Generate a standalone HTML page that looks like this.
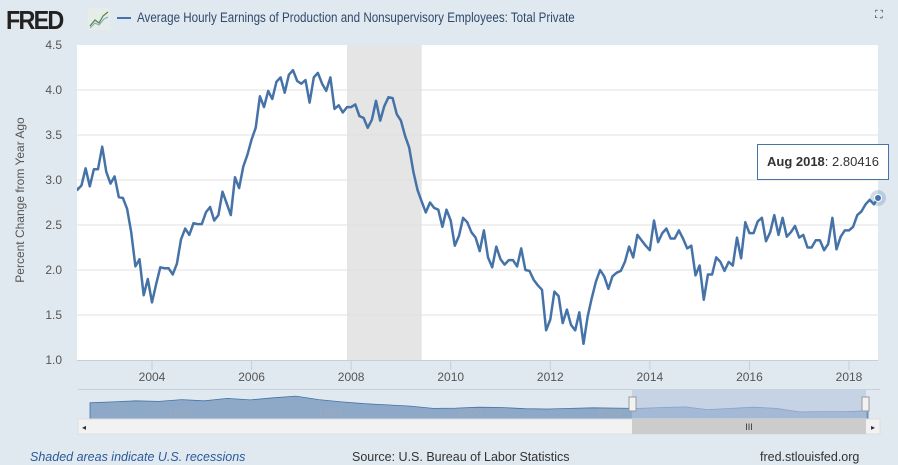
<!DOCTYPE html>
<html><head><meta charset="utf-8"><style>
body{margin:0;background:#e1e9f0;font-family:"Liberation Sans",sans-serif;}
#wrap{position:relative;width:898px;height:465px;overflow:hidden;background:#e1e9f0;}
.t{position:absolute;white-space:nowrap;}
</style></head><body>
<div id="wrap">
<div class="t" style="left:6px;top:5px;font-size:26px;font-weight:bold;color:#222;letter-spacing:-2px;transform:scaleX(0.9);transform-origin:left">FRED</div>
<svg style="position:absolute;left:88px;top:8px" width="22" height="22"><rect x="0" y="0" width="22" height="22" fill="#e6ece8"/><polyline points="2,18 7,12 11,15 15,8 20,4" fill="none" stroke="#4f8a3a" stroke-width="1.2"/><polyline points="2,20 7,15 11,17 16,11 20,9" fill="none" stroke="#7ba3c8" stroke-width="1"/></svg>
<div class="t" style="left:117px;top:17px;width:14px;height:2px;background:#4572a7"></div>
<div class="t" style="left:137px;top:10px;font-size:13.5px;color:#304a6b;transform:scaleX(0.86);transform-origin:left">Average Hourly Earnings of Production and Nonsupervisory Employees: Total Private</div>
<div class="t" style="left:875px;top:9px;font-size:11px;color:#333">⛶</div>
<div class="t" style="left:20px;top:200px;font-size:12px;color:#555;transform:translate(-50%,-50%) rotate(-90deg);transform-origin:center;">Percent Change from Year Ago</div>
<svg id="chart" style="position:absolute;left:0;top:0" width="898" height="465"></svg>
<div class="t" style="left:757px;top:144px;width:132px;height:36px;background:#fff;border:1px solid #4572a7;box-sizing:border-box;font-size:13px;color:#333;line-height:34px;text-align:center"><b>Aug 2018</b>: 2.80416</div>
<div class="t" style="left:30px;top:450px;font-size:12.5px;color:#2a5a9a;font-style:italic">Shaded areas indicate U.S. recessions</div>
<div class="t" style="left:352px;top:450px;font-size:12.5px;color:#333">Source: U.S. Bureau of Labor Statistics</div>
<div class="t" style="left:760px;top:450px;font-size:12.5px;color:#333">fred.stlouisfed.org</div>
</div>
<script>
const yTicks=[1.0,1.5,2.0,2.5,3.0,3.5,4.0,4.5];
const xTicks=[2004,2006,2008,2010,2012,2014,2016,2018];
const recessionStart=2007.917, recessionEnd=2009.417;
const endYear=2018.583;
const values=[2.98,2.89,2.94,3.13,2.93,3.12,3.12,3.37,3.09,2.96,3.04,2.81,2.80,2.68,2.42,2.04,2.12,1.72,1.90,1.64,1.84,2.03,2.02,2.02,1.95,2.07,2.34,2.46,2.39,2.52,2.51,2.51,2.64,2.70,2.55,2.61,2.87,2.74,2.61,3.03,2.91,3.15,3.28,3.45,3.58,3.93,3.81,3.99,3.90,4.09,4.14,3.97,4.17,4.22,4.10,4.07,4.11,3.86,4.14,4.19,4.07,3.99,4.14,3.79,3.83,3.75,3.81,3.81,3.84,3.71,3.69,3.58,3.67,3.88,3.66,3.82,3.92,3.91,3.73,3.66,3.49,3.36,3.09,2.89,2.76,2.64,2.75,2.69,2.67,2.48,2.67,2.55,2.27,2.38,2.58,2.53,2.42,2.36,2.21,2.44,2.14,2.03,2.26,2.12,2.06,2.11,2.11,2.04,2.24,2.00,1.99,1.89,1.83,1.78,1.33,1.45,1.76,1.71,1.41,1.56,1.39,1.33,1.53,1.18,1.48,1.69,1.87,2.00,1.93,1.79,1.93,1.97,1.99,2.09,2.26,2.14,2.39,2.33,2.27,2.22,2.55,2.31,2.41,2.46,2.35,2.35,2.44,2.35,2.24,2.27,1.94,2.05,1.67,1.95,1.95,2.14,2.09,1.99,2.09,2.05,2.36,2.13,2.53,2.41,2.41,2.54,2.58,2.32,2.42,2.61,2.39,2.58,2.37,2.42,2.49,2.36,2.39,2.25,2.25,2.33,2.33,2.22,2.29,2.58,2.23,2.37,2.44,2.44,2.48,2.61,2.65,2.73,2.78,2.73,2.80];
const navValues=[5.5,5.8,6.2,6.0,6.6,6.2,7.0,6.5,7.2,7.8,6.6,5.8,5.2,4.8,4.4,3.6,3.7,4.0,3.9,3.5,3.4,3.6,3.8,3.7,3.6,3.9,4.1,3.2,3.6,4.0,3.6,2.4,2.5,2.5,2.8];
const L=77,R=878,T=45,B=360;
const xs=y=>152+(y-2004)*(849-152)/14;
const ys=v=>B-(v-1)*(B-T)/3.5;
const svg=document.getElementById('chart');
const NS='http://www.w3.org/2000/svg';
function mk(tag,attrs,parent){const e=document.createElementNS(NS,tag);for(const k in attrs)e.setAttribute(k,attrs[k]);(parent||svg).appendChild(e);return e;}
let bg=mk('rect',{x:L,y:T,width:R-L,height:B-T,fill:'#fff'});


let rec=mk('rect',{x:xs(recessionStart),y:T,width:xs(recessionEnd)-xs(recessionStart),height:B-T,fill:'#e5e5e5'});


yTicks.forEach(v=>{
 if(v>1&&v<4.5){let g=mk('line',{x1:L,x2:R,y1:ys(v),y2:ys(v),stroke:'#e0e0e0','stroke-width':1});
 
 }
 let t=mk('text',{x:62,y:ys(v)+4,'text-anchor':'end','font-size':12,fill:'#555','font-family':'Liberation Sans'});
 t.textContent=v.toFixed(1);
 
 
});
mk('line',{x1:L,x2:R,y1:B+0.5,y2:B+0.5,stroke:'#c0d0e0'});
xTicks.forEach(yv=>{
 let x=xs(yv);
 let tk=mk('line',{x1:x,x2:x,y1:B,y2:B+10,stroke:'#c0d0e0'});
 
 
 let t=mk('text',{x:x,y:B+21,'text-anchor':'middle','font-size':12,fill:'#555','font-family':'Liberation Sans'});
 t.textContent=yv;
 
 
});
const defs=mk('defs',{});
const cp=mk('clipPath',{id:'clip'},defs);
mk('rect',{x:L,y:T,width:R-L+6,height:B-T},cp);
const n=values.length;
const pts=values.map((v,i)=>{const yr=endYear-(n-1-i)/12;return xs(yr).toFixed(1)+','+ys(v).toFixed(1);}).join(' ');
let line=mk('polyline',{points:pts,fill:'none',stroke:'#4572a7','stroke-width':2.5,'stroke-linejoin':'round','clip-path':'url(#clip)'});


const lx=xs(endYear), ly=ys(values[n-1]);
let halo=mk('circle',{cx:lx,cy:ly,r:8,fill:'#4572a7','fill-opacity':0.25});


let dot=mk('circle',{cx:lx,cy:ly,r:3.5,fill:'#4572a7',stroke:'#fff','stroke-width':1});


const NL=90,NR=868,NT=394,NB=419;
let nb=mk('rect',{x:NL-12,y:NT-4,width:NR-NL+24,height:NB-NT+4,fill:'#e1e9f0'});


mk('line',{x1:78,x2:880,y1:NT-4.5,y2:NT-4.5,stroke:'#c8d0d8'});
const nx=i=>NL+i*(NR-NL)/(navValues.length-1);
const ny=v=>NB-v*(NB-NT)/8.5;
let ap='M'+NL+','+NB+' '+navValues.map((v,i)=>'L'+nx(i).toFixed(1)+','+ny(v).toFixed(1)).join(' ')+' L'+NR+','+NB+'Z';
let area=mk('path',{d:ap,fill:'#8ea9c8',stroke:'#4572a7','stroke-width':0.8});


[[1970,180],[1980,330],[1990,470],[2000,610],[2010,760]].forEach(([lab,x])=>{
 let t=mk('text',{x:x,y:416,'text-anchor':'middle','font-size':11,fill:'#9aaabb','font-family':'Liberation Sans'});
 t.textContent=lab;
 
 
});
let sel=mk('rect',{x:632,y:NT-4,width:234,height:NB-NT+4,fill:'#b3c5dd','fill-opacity':0.6});


[632,865].forEach(x=>{let h=mk('rect',{x:x-3,y:397,width:7,height:14,fill:'#f2f2f2',stroke:'#999'});
 
 });
let sb=mk('rect',{x:78,y:419,width:802,height:15,fill:'#f2f2f2',stroke:'#ddd'});


let th=mk('rect',{x:632,y:419,width:234,height:15,fill:'#cccccc'});


let tt=mk('text',{x:749,y:430,'text-anchor':'middle','font-size':9,fill:'#333'});tt.textContent='III';


let la=mk('text',{x:82,y:430,'font-size':8,fill:'#333'});la.textContent='◂';


let ra=mk('text',{x:871,y:430,'font-size':8,fill:'#333'});ra.textContent='▸';


</script>
</body></html>
